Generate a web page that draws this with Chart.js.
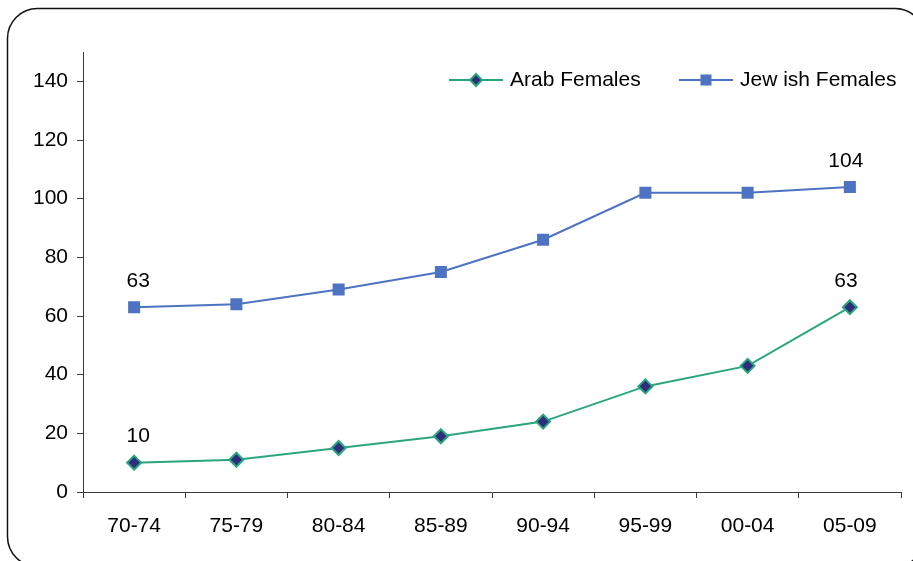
<!DOCTYPE html>
<html>
<head>
<meta charset="utf-8">
<script src="https://cdn.jsdelivr.net/npm/chart.js@4.4.1/dist/chart.umd.min.js"></script>
<style>
  html, body { margin: 0; padding: 0; background: #fff; }
  #wrap { width: 913px; height: 561px; position: relative; }
</style>
</head>
<body>
<div id="wrap"><canvas id="c" width="913" height="561"></canvas></div>
<script>
// Age-group periods on the horizontal axis
const periods = ['70-74', '75-79', '80-84', '85-89', '90-94', '95-99', '00-04', '05-09'];

// Series values per period
const arabFemales   = [10, 11, 15, 19, 24, 36, 43, 63];
const jewishFemales = [63, 64, 69, 75, 86, 102, 102, 104];

// Series names as shown in the legend
const arabName   = 'Arab Females';
const jewishName = 'Jew ish Females';

// Value axis
const yMin = 0, yMax = 150, yStep = 20, yLabelMax = 140;

const FONT = '"Liberation Sans", Arial, sans-serif';
const GREEN = '#2BA67C';
const NAVY = '#2E2D7E';
const BLUE = '#4E73C2';
const AXIS = '#3a3a3a';

// Rounded frame around the whole figure
const framePlugin = {
  id: 'frame',
  beforeDraw(chart) {
    const ctx = chart.ctx;
    ctx.save();
    ctx.fillStyle = '#fff';
    ctx.fillRect(0, 0, chart.width, chart.height);
    ctx.beginPath();
    ctx.roundRect(7.5, 8.5, 917.5, 558, 30);
    ctx.strokeStyle = '#111';
    ctx.lineWidth = 1.5;
    ctx.stroke();
    ctx.restore();
  }
};

// Value labels over the first and last point of each series
const endLabels = {
  id: 'endLabels',
  afterDatasetsDraw(chart) {
    const ctx = chart.ctx;
    ctx.save();
    ctx.font = '21px ' + FONT;
    ctx.fillStyle = '#000';
    ctx.textAlign = 'center';
    ctx.textBaseline = 'middle';
    chart.data.datasets.forEach((ds, di) => {
      const meta = chart.getDatasetMeta(di);
      const last = ds.data.length - 1;
      [[0, 4], [last, -4]].forEach(([i, dx]) => {
        const p = meta.data[i];
        ctx.fillText(String(ds.data[i]), p.x + dx, p.y - 26);
      });
    });
    ctx.restore();
  }
};

// Legend drawn inside the plot, top right: line sample with its marker
const innerLegend = {
  id: 'innerLegend',
  afterDraw(chart) {
    const ctx = chart.ctx;
    const y = 80;
    const items = [
      { x: 449, ds: chart.data.datasets[0], kind: 'diamond' },
      { x: 679, ds: chart.data.datasets[1], kind: 'square' }
    ];
    ctx.save();
    items.forEach(it => {
      ctx.strokeStyle = it.ds.borderColor;
      ctx.lineWidth = 2;
      ctx.beginPath();
      ctx.moveTo(it.x, y);
      ctx.lineTo(it.x + 54, y);
      ctx.stroke();
      const cx = it.x + 27;
      if (it.kind === 'diamond') {
        ctx.beginPath();
        ctx.moveTo(cx, y - 6);
        ctx.lineTo(cx + 6, y);
        ctx.lineTo(cx, y + 6);
        ctx.lineTo(cx - 6, y);
        ctx.closePath();
        ctx.fillStyle = it.ds.pointBackgroundColor;
        ctx.fill();
        ctx.strokeStyle = it.ds.pointBorderColor;
        ctx.lineWidth = 2;
        ctx.stroke();
      } else {
        ctx.fillStyle = it.ds.pointBackgroundColor;
        ctx.fillRect(cx - 5.5, y - 5.5, 11, 11);
      }
      ctx.font = '21px ' + FONT;
      ctx.fillStyle = '#000';
      ctx.textAlign = 'left';
      ctx.textBaseline = 'middle';
      ctx.fillText(it.ds.label, it.x + 61, y);
    });
    ctx.restore();
  }
};

new Chart(document.getElementById('c'), {
  type: 'line',
  data: {
    labels: periods,
    datasets: [
      {
        label: arabName,
        data: arabFemales,
        borderColor: GREEN,
        borderWidth: 2,
        tension: 0,
        pointStyle: 'rectRot',
        pointRadius: 7,
        pointBackgroundColor: NAVY,
        pointBorderColor: GREEN,
        pointBorderWidth: 2
      },
      {
        label: jewishName,
        data: jewishFemales,
        borderColor: BLUE,
        borderWidth: 2,
        tension: 0,
        pointStyle: 'rect',
        pointRadius: 8.5,
        pointBackgroundColor: BLUE,
        pointBorderColor: BLUE,
        pointBorderWidth: 0
      }
    ]
  },
  options: {
    responsive: false,
    animation: false,
    events: [],
    layout: { padding: { top: 52, right: 12, bottom: 0, left: 0 } },
    plugins: {
      legend: { display: false },
      tooltip: { enabled: false }
    },
    scales: {
      x: {
        offset: true,
        grid: { display: true, drawOnChartArea: false, drawTicks: true, tickLength: 6, offset: true, color: AXIS },
        border: { display: true, color: AXIS, width: 1 },
        ticks: { color: '#000', font: { family: FONT, size: 21 }, padding: 16, maxRotation: 0 },
        afterFit(scale) { scale.height = 69; }
      },
      y: {
        min: yMin,
        max: yMax,
        grid: { display: true, drawOnChartArea: false, drawTicks: true, tickLength: 6, color: AXIS },
        border: { display: true, color: AXIS, width: 1 },
        ticks: { stepSize: yStep, color: '#000', font: { family: FONT, size: 21 }, padding: 9 },
        afterBuildTicks(scale) { scale.ticks = scale.ticks.filter(t => t.value <= yLabelMax); },
        afterFit(scale) { scale.width = 83; }
      }
    }
  },
  plugins: [framePlugin, endLabels, innerLegend]
});
</script>
</body>
</html>
